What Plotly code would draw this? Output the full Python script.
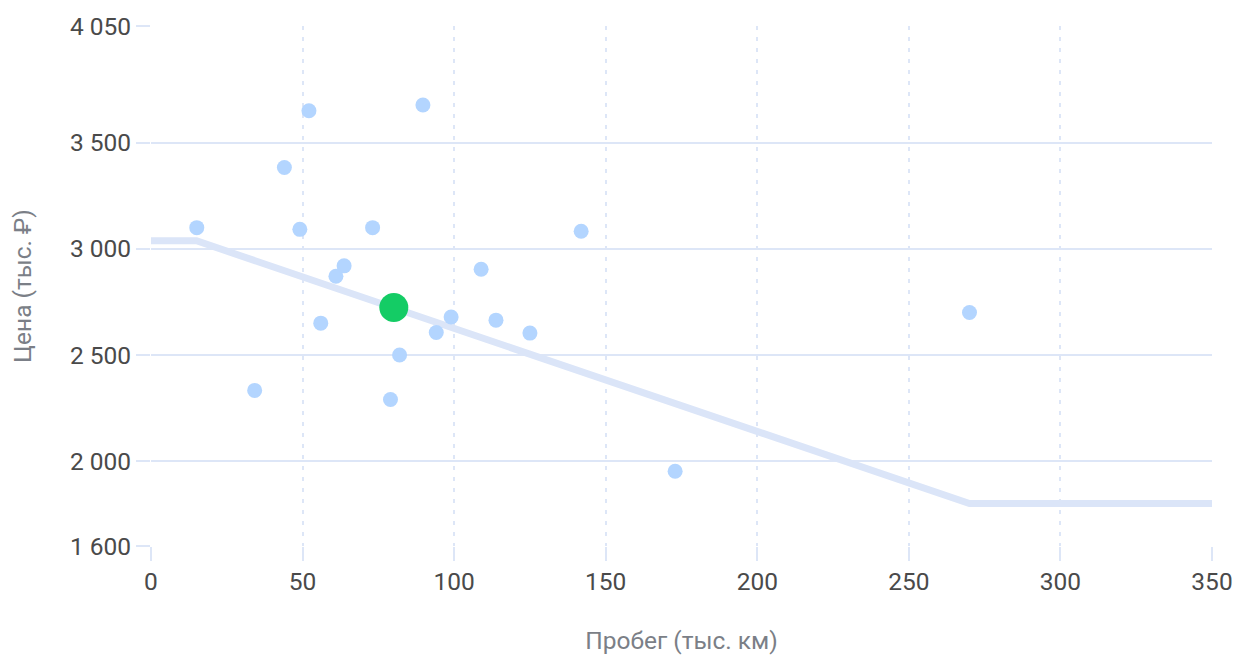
import plotly.graph_objects as go

# Market listings: mileage (thousand km) and price (thousand RUB)
mileage = [15.1, 34.2, 44.0, 49.1, 52.1, 56.0, 61.0, 63.7, 73.1, 79.0, 82.0,
           89.7, 94.1, 99.0, 108.9, 113.8, 125.0, 141.9, 172.9, 270.0]
price = [3100, 2333, 3383, 3092, 3651, 2650, 2871, 2920, 3100, 2290, 2500,
         3678, 2606, 2679, 2904, 2664, 2603, 3083, 1952, 2700]

# Highlighted car
own_mileage = [80.1]
own_price = [2724]

# Estimated price curve
curve_mileage = [0, 15, 270, 350]
curve_price = [3038, 3038, 1800, 1800]

x_ticks = [0, 50, 100, 150, 200, 250, 300, 350]
y_ticks = [1600, 2000, 2500, 3000, 3500, 4050]
y_tick_labels = ["1 600", "2 000", "2 500", "3 000", "3 500", "4 050"]

GRID = "#dde6f7"
FONT = "Roboto"
TICK_COLOR = "#4a4a4a"
TITLE_COLOR = "#7b7f87"
FS = 24.5

fig = go.Figure()
fig.add_trace(go.Scatter(
    x=curve_mileage, y=curve_price, mode="lines",
    line=dict(color="#dbe5f8", width=7), hoverinfo="skip", showlegend=False,
    cliponaxis=False))
fig.add_trace(go.Scatter(
    x=mileage, y=price, mode="markers",
    marker=dict(color="#b3d5ff", size=15, line=dict(width=0)),
    showlegend=False))
fig.add_trace(go.Scatter(
    x=own_mileage, y=own_price, mode="markers",
    marker=dict(color="#14cc65", size=29, line=dict(width=0)),
    showlegend=False))

fig.update_layout(
    width=1233, height=647,
    margin=dict(l=143, r=29, t=18, b=109),
    paper_bgcolor="white", plot_bgcolor="white",
    font=dict(family=FONT, size=FS, color=TICK_COLOR),
    hovermode=False,
)
fig.update_xaxes(
    range=[0, 350], tickvals=x_ticks, automargin=False,
    showgrid=True, gridcolor=GRID, griddash="4px,7px", gridwidth=1.5,
    zeroline=False, showline=False,
    ticks="outside", ticklen=14, tickcolor=GRID, tickwidth=1.5,
    tickfont=dict(family=FONT, size=FS, color=TICK_COLOR),
    title=dict(text="Пробег (тыс. км)", font=dict(family=FONT, size=FS, color=TITLE_COLOR), standoff=36),
)
fig.update_yaxes(
    range=[1600, 4050], tickvals=y_ticks, ticktext=y_tick_labels, automargin=False,
    showgrid=True, gridcolor=GRID, gridwidth=1.5,
    zeroline=False, showline=False,
    ticks="outside", ticklen=14, tickcolor=GRID, tickwidth=1.5,
    tickfont=dict(family=FONT, size=FS, color=TICK_COLOR),
    title=dict(text="Цена (тыс. ₽)", font=dict(family=FONT, size=FS, color=TITLE_COLOR), standoff=31),
)

fig.write_html("out.html")
